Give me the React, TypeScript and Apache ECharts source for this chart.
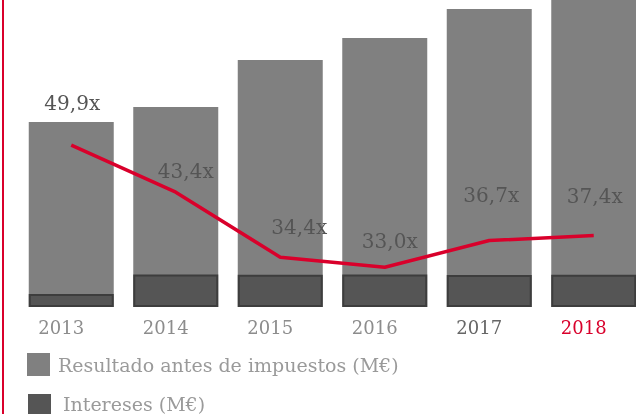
import React, { useEffect, useRef } from "react";
import * as echarts from "echarts";

const years = ["2013", "2014", "2015", "2016", "2017", "2018"];
const yearColors = ["#8c8c8c", "#8c8c8c", "#8c8c8c", "#8c8c8c", "#666666", "#d9002b"];
const resultado = [96.4, 104.2, 128.7, 140.2, 155.3, 169.0];
const intereses = [6.8, 17.0, 16.8, 17.0, 16.7, 16.8];
const cobertura = [49.9, 43.4, 34.4, 33.0, 36.7, 37.4];
const coberturaLabels = ["49,9x", "43,4x", "34,4x", "33,0x", "36,7x", "37,4x"];

const FONT = "DejaVu Serif";

export default function App() {
  const ref = useRef<HTMLDivElement>(null);
  useEffect(() => {
    if (!ref.current) return;
    const chart = echarts.init(ref.current, undefined, { renderer: "svg" });
    const legendBase = {
      orient: "horizontal",
      padding: 0,
      itemWidth: 23,
      icon: "rect",
      selectedMode: false,
      itemStyle: { borderWidth: 0 },
      textStyle: { fontFamily: FONT, fontSize: 19, color: "#9a9a9a" },
    };
    // label placement tweaks (style only)
    const labelDist = [32, 11, 20, 16, 35, 29];
    const labelDx = [1, 10, 19, 5, 2, 1];
    chart.setOption({
      animation: false,
      grid: { left: 19, width: 627, top: 0, bottom: 107, containLabel: false },
      legend: [
        {
          ...legendBase,
          left: 27,
          top: 353,
          itemHeight: 23,
          data: [{ name: "Resultado antes de impuestos (M€)", textStyle: { padding: [0, 0, 0, 3] } }],
        },
        {
          ...legendBase,
          top: 394,
          left: 28,
          itemHeight: 20,
          data: [{ name: "Intereses (M€)", textStyle: { padding: [0, 0, 0, 7] } }],
        },
      ],
      xAxis: {
        type: "category",
        data: years.map((y, i) => ({ value: y, textStyle: { color: yearColors[i] } })),
        axisLine: { show: false },
        axisTick: { show: false },
        axisLabel: {
          fontFamily: FONT,
          fontSize: 18,
          margin: 11,
          padding: [0, 20, 0, 0],
        },
      },
      yAxis: [
        { type: "value", min: 0, max: 160, show: false, splitLine: { show: false } },
        { type: "value", min: 27.5, max: 70, show: false, splitLine: { show: false } },
      ],
      series: [
        {
          name: "Resultado antes de impuestos (M€)",
          type: "bar",
          data: resultado,
          barWidth: 85,
          barGap: "-100%",
          clip: false,
          itemStyle: { color: "#808080" },
        },
        {
          name: "Intereses (M€)",
          type: "bar",
          data: intereses,
          barWidth: 85,
          barGap: "-100%",
          itemStyle: { color: "#555555", borderColor: "#3d3d3d", borderWidth: 2 },
        },
        {
          name: "Cobertura",
          type: "line",
          yAxisIndex: 1,
          data: cobertura.map((v, i) => ({
            value: v,
            label: { distance: labelDist[i], offset: [labelDx[i], 0] },
          })),
          symbol: "circle",
          symbolSize: 1,
          showSymbol: true,
          z: 5,
          lineStyle: { color: "#d9002b", width: 3.5 },
          itemStyle: { color: "rgba(0,0,0,0)" },
          label: {
            show: true,
            position: "top",
            fontFamily: FONT,
            fontSize: 20,
            color: "#555555",
            formatter: (p: any) => coberturaLabels[p.dataIndex],
          },
        },
      ],
      graphic: [
        {
          type: "line",
          shape: { x1: 3, y1: 0, x2: 3, y2: 414 },
          style: { stroke: "#d9002b", lineWidth: 2 },
        },
      ],
    });
    return () => chart.dispose();
  }, []);
  return (
    <div style={{ position: "fixed", left: 0, top: 0, width: 636, height: 414, overflow: "hidden" }}>
      <div ref={ref} style={{ position: "absolute", left: 0, top: 0, width: 660, height: 414 }} />
    </div>
  );
}
